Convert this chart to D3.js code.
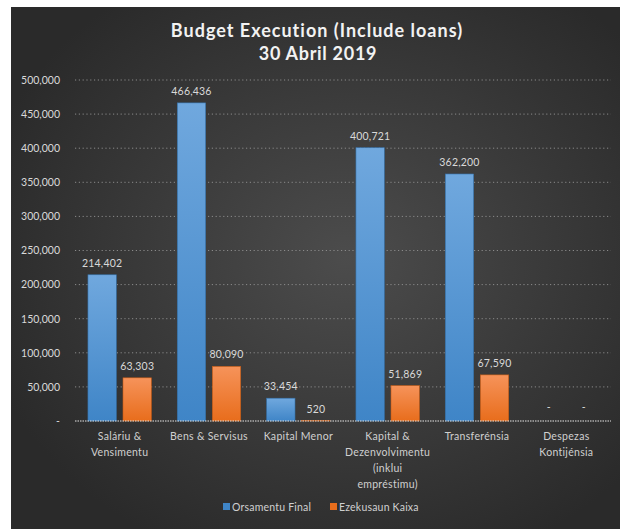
<!DOCTYPE html>
<html>
<head>
<meta charset="utf-8">
<script src="https://cdn.jsdelivr.net/npm/d3@7/dist/d3.min.js"></script>
<style>
	html, body { margin: 0; padding: 0; background: #fff; }
	svg { display: block; }
	text { font-family: Lato, "Open Sans", sans-serif; }
</style>
</head>
<body>
<div id="chart"></div>
<script>

// data
var categories = [
	["Saláriu &", "Vensimentu"],
	["Bens & Servisus"],
	["Kapital Menor"],
	["Kapital &", "Dezenvolvimentu", "(inklui", "empréstimu)"],
	["Transferénsia"],
	["Despezas", "Kontijénsia"]
];
var seriesNames = ["Orsamentu Final", "Ezekusaun Kaixa"];
var orsamentuFinal = [214402, 466436, 33454, 400721, 362200, 0];
var ezekusaunKaixa = [63303, 80090, 520, 51869, 67590, 0];
var yTicks = [0, 50000, 100000, 150000, 200000, 250000, 300000, 350000, 400000, 450000, 500000];

var width = 620,
	height = 529;
var margin = {top: 80, right: 9, bottom: 108, left: 75};
var plotW = width - margin.left - margin.right,
	plotH = height - margin.top - margin.bottom;

var svg = d3.select("#chart").append("svg")
	.attr("width", width)
	.attr("height", height);

var defs = svg.append("defs");

var bg = defs.append("radialGradient")
	.attr("id", "bg")
	.attr("cx", "55%").attr("cy", "48%").attr("r", "62%");
bg.append("stop").attr("offset", "0%").attr("stop-color", "#4c4c4c");
bg.append("stop").attr("offset", "100%").attr("stop-color", "#2a2a2a");

// bar fills, lighter on top like the office theme
var barColors = [["#70a8de", "#3f85c7"], ["#f6935a", "#e86d1c"]];
barColors.forEach(function (c, i) {
	var g = defs.append("linearGradient")
		.attr("id", "bar" + i)
		.attr("x1", 0).attr("y1", 0).attr("x2", 0).attr("y2", 1);
	g.append("stop").attr("offset", "0%").attr("stop-color", c[0]);
	g.append("stop").attr("offset", "100%").attr("stop-color", c[1]);
});

svg.append("rect")
	.attr("x", 11).attr("y", 7)
	.attr("width", width - 11).attr("height", height - 7)
	.attr("fill", "url(#bg)");

// title
var title = svg.append("text")
	.attr("text-anchor", "middle")
	.attr("fill", "#f2f2f2")
	.style("font-weight", "bold")
	.style("font-size", "18px");
title.append("tspan").attr("x", 317).attr("y", 37)
	.style("letter-spacing", "1px")
	.text("Budget Execution (Include loans)");
title.append("tspan").attr("x", 318).attr("y", 60)
	.style("letter-spacing", "0.7px")
	.text("30 Abril 2019");

var g = svg.append("g")
	.attr("transform", "translate(" + margin.left + "," + margin.top + ")");

var x0 = d3.scaleBand()
	.domain(d3.range(categories.length))
	.range([0, plotW])
	.paddingInner(0.29)
	.paddingOuter(0.145);

var x1 = d3.scaleBand()
	.domain([0, 1])
	.range([0, x0.bandwidth()])
	.paddingInner(0.19);

var y = d3.scaleLinear()
	.domain([0, 500000])
	.range([plotH, 0]);

var fmt = function (v) {
	return v === 0 ? "-" : d3.format(",")(v);
};

// gridlines
g.append("g")
	.selectAll("line")
	.data(yTicks.slice(1))
	.join("line")
	.attr("x1", 0).attr("x2", plotW)
	.attr("y1", function (d) { return y(d); })
	.attr("y2", function (d) { return y(d); })
	.attr("stroke", "#8a8a8a")
	.attr("stroke-width", 1)
	.attr("stroke-dasharray", "1.2,2.6");

// y axis labels
var yAxis = g.append("g")
	.call(d3.axisLeft(y).tickValues(yTicks).tickSize(0).tickPadding(15).tickFormat(function (d) {
		return d === 0 ? "- " : d3.format(",")(d);
	}));
yAxis.select(".domain").remove();
yAxis.selectAll("text")
	.attr("fill", "#d9d9d9")
	.style("font-size", "10.5px")
	.style("font-family", "Lato, 'Open Sans', sans-serif");

// bars
var series = [orsamentuFinal, ezekusaunKaixa];
var groups = g.selectAll("g.cat")
	.data(categories.map(function (c, i) { return i; }))
	.join("g")
	.attr("class", "cat")
	.attr("transform", function (i) { return "translate(" + x0(i) + ",0)"; });

groups.selectAll("rect")
	.data(function (i) { return series.map(function (s, k) { return {k: k, v: s[i]}; }); })
	.join("rect")
	.attr("x", function (d) { return x1(d.k); })
	.attr("width", x1.bandwidth())
	.attr("y", function (d) { return y(d.v); })
	.attr("height", function (d) { return plotH - y(d.v); })
	.attr("fill", function (d) { return "url(#bar" + d.k + ")"; })
	.attr("stroke", function (d) { return d.k ? "#c45a14" : "#3470a8"; })
	.attr("stroke-width", 0.6);

// value labels
groups.selectAll("text")
	.data(function (i) { return series.map(function (s, k) { return {k: k, v: s[i]}; }); })
	.join("text")
	.attr("x", function (d) { return x1(d.k) + x1.bandwidth() / 2; })
	.attr("y", function (d) { return y(d.v) - (d.v === 0 ? 10 : 8); })
	.attr("text-anchor", "middle")
	.attr("fill", "#d9d9d9")
	.style("font-size", "10.5px")
	.style("letter-spacing", "0.2px")
	.text(function (d) { return fmt(d.v); });

// baseline
g.append("line")
	.attr("x1", 0).attr("x2", plotW)
	.attr("y1", plotH).attr("y2", plotH)
	.attr("stroke", "#e6e6e6")
	.attr("stroke-width", 1.2)
	.attr("stroke-dasharray", "1.5,1");

// category labels
var catText = g.selectAll("text.cat-label")
	.data(categories)
	.join("text")
	.attr("class", "cat-label")
	.attr("text-anchor", "middle")
	.attr("fill", "#d0d0d0")
	.style("font-size", "10.5px")
	.style("letter-spacing", "0.3px");

catText.each(function (lines, i) {
	var t = d3.select(this);
	lines.forEach(function (l, j) {
		t.append("tspan")
			.attr("x", x0(i) + x0.bandwidth() / 2)
			.attr("y", plotH + 19 + j * 16)
			.text(l);
	});
});

// legend
var legendX = [223, 330];
var legend = svg.append("g");
seriesNames.forEach(function (name, k) {
	legend.append("rect")
		.attr("x", legendX[k]).attr("y", 503)
		.attr("width", 7).attr("height", 7)
		.attr("fill", barColors[k][1]);
	legend.append("text")
		.attr("x", legendX[k] + 9).attr("y", 510.5)
		.attr("fill", "#d0d0d0")
		.style("font-size", "10.5px")
		.style("letter-spacing", "0.2px")
		.text(name);
});

</script>
</body>
</html>
